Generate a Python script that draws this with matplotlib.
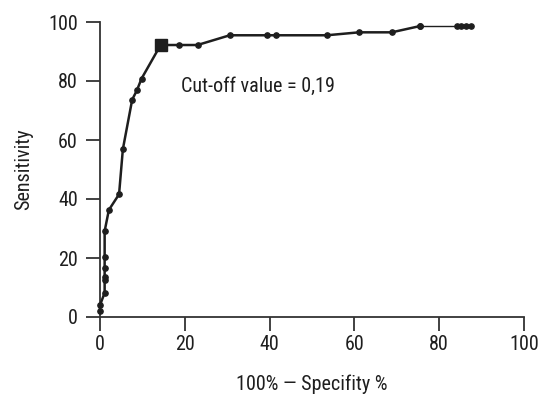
import matplotlib
matplotlib.use("Agg")
import matplotlib.pyplot as plt
from matplotlib import font_manager as fm

names = {f.name for f in fm.fontManager.ttflist}
fam = 'Liberation Sans'
for cand in ['Liberation Sans Narrow', 'Roboto Condensed', 'Open Sans Condensed',
             'Noto Sans Condensed', 'DejaVu Sans Condensed']:
    if cand in names:
        fam = cand
        break
condensed = fam != 'Liberation Sans'
plt.rcParams['font.family'] = [fam, 'DejaVu Sans']
fs = 14.5 if condensed else 13

# ROC curve points: 100% - specificity (x), sensitivity (y)
fpr = [0, 0, 1.1, 1.1, 1.1, 1.1, 1.1, 1.1, 2.1, 4.5, 5.4, 7.6, 8.7, 9.8, 14.3,
       18.6, 23.0, 30.6, 39.4, 41.4, 53.5, 61.1, 68.8, 75.4, 84.1, 85.2, 86.3, 87.5]
sens = [1.9, 4.0, 8.2, 12.7, 13.6, 16.7, 20.4, 29.1, 36.3, 41.6, 56.9, 73.7, 76.8, 80.8, 92.2,
        92.2, 92.2, 95.5, 95.5, 95.5, 95.5, 96.5, 96.5, 98.6, 98.6, 98.6, 98.6, 98.6]
cutoff_x, cutoff_y = 14.3, 92.2
cutoff_label = "Cut-off value = 0,19"
x_ticks = [0, 20, 40, 60, 80, 100]
y_ticks = [0, 20, 40, 60, 80, 100]

fig = plt.figure(figsize=(5.41, 4.0), dpi=100)
ax = fig.add_axes([0.1848, 0.2075, 0.7838, 0.7375])

col = '#1e1e1e'
ax.plot(fpr[:24], sens[:24], color=col, lw=1.8, marker='o', ms=3.8, clip_on=False, zorder=3)
ax.plot(fpr[23:], sens[23:], color=col, lw=1.0, marker='o', ms=3.8, clip_on=False, zorder=3)
ax.plot([cutoff_x], [cutoff_y], marker='s', ms=9, color=col, clip_on=False, zorder=4)

ax.text(19.1, 78.1, cutoff_label, fontsize=fs, color=col, va='center', ha='left')

ax.set_xlim(0, 100)
ax.set_ylim(0, 100)
ax.set_xticks(x_ticks)
ax.set_yticks(y_ticks)
for s in ['top', 'right']:
    ax.spines[s].set_visible(False)
for s in ['left', 'bottom']:
    ax.spines[s].set_linewidth(1.3)
    ax.spines[s].set_color('#333333')
ax.tick_params(direction='out', length=10, width=1.3, colors='#333333',
               labelsize=fs, labelcolor=col)
ax.tick_params(axis='x', pad=3)
ax.tick_params(axis='y', pad=6)

ax.set_ylabel("Sensitivity", fontsize=fs, color=col, labelpad=11)
ax.set_xlabel("100% — Specifity %", fontsize=fs, color=col, labelpad=15)

fig.savefig("out.png", dpi=100)
